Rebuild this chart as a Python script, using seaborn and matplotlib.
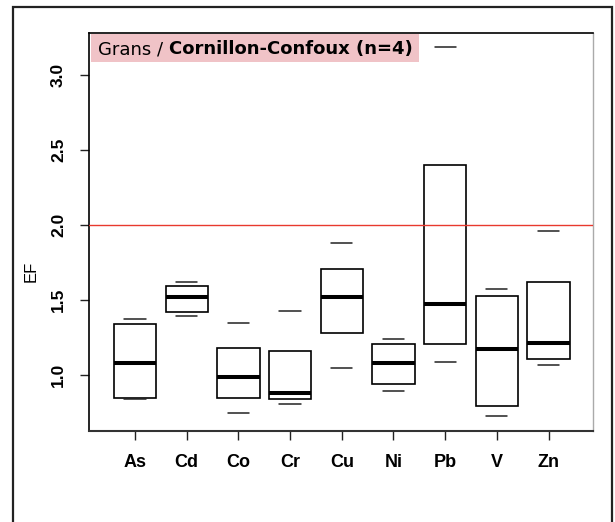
import matplotlib
matplotlib.use("Agg")
import matplotlib.pyplot as plt
import matplotlib.patches as mpatches
import seaborn as sns
import pandas as pd

# five-number summaries (min, q1, median, q3, max)
elements = ["As", "Cd", "Co", "Cr", "Cu", "Ni", "Pb", "V", "Zn"]
ef_min = [0.842, 1.395, 0.749, 0.807, 1.047, 0.891, 1.089, 0.729, 1.069]
ef_q1 = [0.847, 1.424, 0.847, 0.838, 1.282, 0.938, 1.207, 0.793, 1.109]
ef_med = [1.078, 1.518, 0.984, 0.878, 1.524, 1.082, 1.475, 1.171, 1.215]
ef_q3 = [1.340, 1.593, 1.184, 1.158, 1.709, 1.207, 2.400, 1.529, 1.620]
ef_max = [1.371, 1.620, 1.349, 1.427, 1.882, 1.240, 3.189, 1.573, 1.958]
threshold = 2.0
yticks = [1.0, 1.5, 2.0, 2.5, 3.0]

# with 5 values, numpy percentiles give exactly q1/median/q3
rows = []
for i, el in enumerate(elements):
    for v in (ef_min[i], ef_q1[i], ef_med[i], ef_q3[i], ef_max[i]):
        rows.append({"element": el, "EF": v})
df = pd.DataFrame(rows)

sns.set_theme(style="ticks")
plt.rcParams["font.family"] = ["Liberation Sans", "DejaVu Sans"]
plt.rcParams["text.color"] = "black"
plt.rcParams["axes.labelcolor"] = "black"
plt.rcParams["xtick.color"] = "black"
plt.rcParams["ytick.color"] = "black"

fig = plt.figure(figsize=(6.15, 5.22), dpi=100)
ax = fig.add_axes([89 / 615, 1 - 431 / 522, 504 / 615, 398 / 522])

sns.boxplot(data=df, x="element", y="EF", order=elements, ax=ax,
            whis=(0, 100), width=0.82, color="white", linecolor="black",
            linewidth=1.2, showfliers=False,
            whiskerprops={"linewidth": 0},
            capprops={"linewidth": 1.1, "color": "#222222"},
            medianprops={"linewidth": 2.9, "color": "black"})

ax.axhline(threshold, color="#e8392e", linewidth=1.0, zorder=5)

ax.set_xlim(-0.89, 8.86)
ax.set_ylim(0.627, 3.282)
ax.set_yticks(yticks)
ax.set_yticklabels([f"{t:.1f}" for t in yticks], rotation=90, va="center",
                   fontweight="bold", fontsize=12.5)
ax.set_xticks(range(len(elements)))
ax.set_xticklabels(elements, fontweight="bold", fontsize=13)
ax.tick_params(axis="both", direction="out", length=6.5, width=1.0,
               color="#222222", labelcolor="black", pad=10)
ax.set_xlabel("")
ax.set_ylabel("EF", fontsize=12)
ax.yaxis.set_label_coords(-0.099, 0.40)

for side in ["left", "top"]:
    ax.spines[side].set_color("black")
    ax.spines[side].set_linewidth(1.2)
ax.spines["bottom"].set_color("#333333")
ax.spines["bottom"].set_linewidth(1.5)
ax.spines["right"].set_color("#aaaaaa")
ax.spines["right"].set_linewidth(1.0)

# pink title box inside the plot
ax.add_patch(mpatches.Rectangle((0.004, 0.927), 0.651, 0.07,
                                transform=ax.transAxes, facecolor="#f0c3c7",
                                edgecolor="none", zorder=6))
t1 = ax.text(0.018, 0.959, "Grans / ", transform=ax.transAxes,
             fontsize=13, family="DejaVu Sans", va="center", ha="left", zorder=7)
ax.annotate("Cornillon-Confoux (n=4)", xy=(1, 0), xycoords=t1,
            fontsize=13, family="DejaVu Sans", fontweight="bold",
            va="bottom", ha="left", zorder=7)

# outer frame of the figure
fig.add_artist(mpatches.Rectangle((13 / 615, -0.1), 599 / 615, 1.1 - 7 / 522,
                                  transform=fig.transFigure, fill=False,
                                  edgecolor="#222222", linewidth=1.6))

fig.savefig("out.png", dpi=100)
